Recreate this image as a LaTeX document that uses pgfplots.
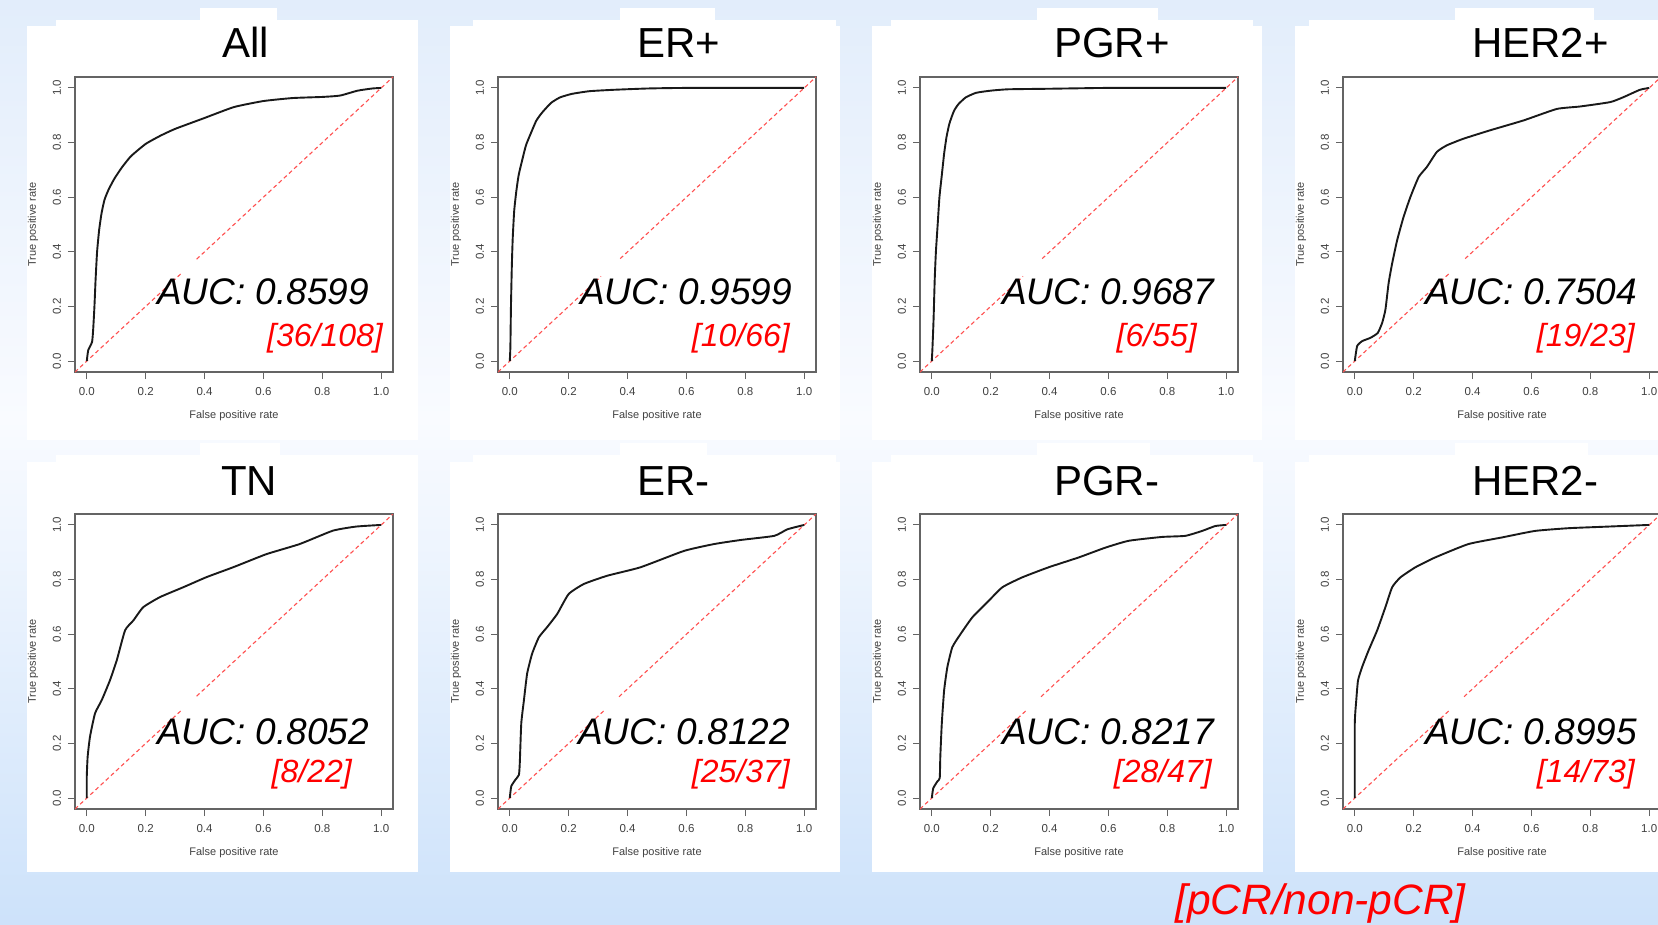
\documentclass[border=0pt]{standalone}
\usepackage{pgfplots}
\pgfplotsset{compat=1.18}
\usepackage{fontspec}
\setmainfont{Liberation Sans}
\definecolor{bgtop}{RGB}{226,237,251}
\definecolor{bgmid}{RGB}{249,251,255}
\definecolor{bgbot}{RGB}{205,226,250}
\definecolor{axgray}{RGB}{100,100,100}
\definecolor{labgray}{RGB}{65,65,65}
\definecolor{diagred}{RGB}{255,80,80}
\pgfplotsset{
  roc/.style={
    width=318pt, height=295pt, scale only axis,
    xmin=-0.04, xmax=1.04, ymin=-0.04, ymax=1.04,
    xtick={0,0.2,0.4,0.6,0.8,1}, ytick={0,0.2,0.4,0.6,0.8,1},
    xticklabels={0.0,0.2,0.4,0.6,0.8,1.0},
    yticklabels={0.0,0.2,0.4,0.6,0.8,1.0},
    xtick pos=left, ytick pos=left,
    tick align=outside, major tick length=7pt,
    tick style={axgray, line width=1.1pt},
    axis line style={axgray, line width=1.6pt},
    ticklabel style={font=\fontsize{11.5}{11.5}\selectfont, text=labgray},
    xticklabel style={yshift=-5pt},
    yticklabel style={xshift=-3.5pt, rotate=90},
    xlabel={False positive rate}, ylabel={True positive rate},
    label style={font=\fontsize{11}{11}\selectfont, text=labgray},
    xlabel style={at={(axis description cs:0.5,-0.149)}, anchor=center},
    ylabel style={at={(axis description cs:-0.132,0.5)}, anchor=center},
  },
  diag/.style={diagred, line width=1.1pt, dash pattern=on 4pt off 3pt},
  curve/.style={black!90, line width=1.9pt, smooth, tension=0.3},
}
\begin{document}
\begin{tikzpicture}
\path[use as bounding box] (0,0) rectangle (1658pt,-925pt);
\begin{scope}
\clip (0,0) rectangle (1658pt,-925pt);
\shade[top color=bgtop, bottom color=bgmid] (0,0) rectangle (1658pt,-420pt);
\shade[top color=bgmid, bottom color=bgbot] (0,-419pt) rectangle (1658pt,-925pt);
% white panels, top row
\fill[white] (27pt,-26pt) rectangle (418pt,-440pt);
\fill[white] (56pt,-20pt) rectangle (418pt,-27pt);
\fill[white] (200pt,-8pt) rectangle (277pt,-21pt);
\fill[white] (450pt,-26pt) rectangle (840pt,-440pt);
\fill[white] (473pt,-20pt) rectangle (836pt,-27pt);
\fill[white] (620pt,-8pt) rectangle (715pt,-21pt);
\fill[white] (872pt,-26pt) rectangle (1262pt,-440pt);
\fill[white] (891pt,-20pt) rectangle (1253pt,-27pt);
\fill[white] (1037pt,-8pt) rectangle (1158pt,-21pt);
\fill[white] (1295pt,-26pt) rectangle (1658pt,-440pt);
\fill[white] (1309pt,-20pt) rectangle (1658pt,-27pt);
\fill[white] (1455pt,-8pt) rectangle (1594pt,-21pt);
% white panels, bottom row
\fill[white] (27pt,-462pt) rectangle (418pt,-872pt);
\fill[white] (56pt,-455pt) rectangle (418pt,-463pt);
\fill[white] (200pt,-443pt) rectangle (280pt,-456pt);
\fill[white] (450pt,-462pt) rectangle (840pt,-872pt);
\fill[white] (473pt,-455pt) rectangle (836pt,-463pt);
\fill[white] (620pt,-443pt) rectangle (707pt,-456pt);
\fill[white] (872pt,-462pt) rectangle (1263pt,-872pt);
\fill[white] (891pt,-455pt) rectangle (1253pt,-463pt);
\fill[white] (1037pt,-443pt) rectangle (1150pt,-456pt);
\fill[white] (1295pt,-462pt) rectangle (1658pt,-872pt);
\fill[white] (1309pt,-455pt) rectangle (1658pt,-463pt);
\fill[white] (1455pt,-443pt) rectangle (1588pt,-456pt);

% ---------- All ----------
\begin{axis}[roc, at={(75pt,-372pt)}, anchor=south west]
\addplot[diag] coordinates {(-0.04,-0.04) (0.325,0.325)};
\addplot[diag] coordinates {(0.373,0.373) (1.04,1.04)};
\addplot[curve] coordinates {(0,0) (0.005,0.04) (0.018,0.07) (0.022,0.12) (0.026,0.2) (0.03,0.3) (0.035,0.4) (0.042,0.48) (0.05,0.54) (0.06,0.59) (0.075,0.63) (0.095,0.67) (0.12,0.71) (0.15,0.75) (0.2,0.795) (0.25,0.825) (0.3,0.85) (0.4,0.89) (0.5,0.93) (0.6,0.952) (0.7,0.963) (0.8,0.967) (0.86,0.972) (0.92,0.99) (0.97,0.998) (1,1)};
\end{axis}
% ---------- ER+ ----------
\begin{axis}[roc, at={(498pt,-372pt)}, anchor=south west]
\addplot[diag] coordinates {(-0.04,-0.04) (0.31,0.31)};
\addplot[diag] coordinates {(0.375,0.375) (1.04,1.04)};
\addplot[curve] coordinates {(0,0) (0.002,0.05) (0.004,0.2) (0.007,0.35) (0.01,0.45) (0.015,0.55) (0.022,0.62) (0.03,0.68) (0.042,0.735) (0.055,0.79) (0.07,0.83) (0.09,0.88) (0.11,0.91) (0.14,0.945) (0.17,0.965) (0.21,0.978) (0.27,0.988) (0.35,0.993) (0.47,0.998) (0.6,1) (1,1)};
\end{axis}
% ---------- PGR+ ----------
\begin{axis}[roc, at={(920pt,-372pt)}, anchor=south west]
\addplot[diag] coordinates {(-0.04,-0.04) (0.31,0.31)};
\addplot[diag] coordinates {(0.375,0.375) (1.04,1.04)};
\addplot[curve] coordinates {(0,0) (0.002,0.04) (0.006,0.15) (0.01,0.3) (0.014,0.4) (0.02,0.5) (0.026,0.6) (0.034,0.68) (0.042,0.76) (0.05,0.82) (0.06,0.87) (0.075,0.915) (0.09,0.94) (0.115,0.965) (0.15,0.982) (0.2,0.99) (0.26,0.995) (0.4,0.997) (0.52,0.999) (0.6,1) (1,1)};
\end{axis}
% ---------- HER2+ ----------
\begin{axis}[roc, at={(1343pt,-372pt)}, anchor=south west]
\addplot[diag] coordinates {(-0.04,-0.04) (0.32,0.32)};
\addplot[diag] coordinates {(0.375,0.375) (1.04,1.04)};
\addplot[curve] coordinates {(0,0) (0.008,0.055) (0.025,0.073) (0.053,0.085) (0.078,0.103) (0.093,0.14) (0.104,0.188) (0.115,0.286) (0.127,0.358) (0.144,0.443) (0.166,0.529) (0.189,0.601) (0.217,0.674) (0.245,0.711) (0.279,0.766) (0.313,0.79) (0.369,0.814) (0.46,0.845) (0.573,0.881) (0.686,0.923) (0.765,0.932) (0.867,0.948) (0.912,0.966) (0.968,0.993) (1,1)};
\end{axis}
% ---------- TN ----------
\begin{axis}[roc, at={(75pt,-809pt)}, anchor=south west]
\addplot[diag] coordinates {(-0.04,-0.04) (0.325,0.325)};
\addplot[diag] coordinates {(0.373,0.373) (1.04,1.04)};
\addplot[curve] coordinates {(0,0) (0,0.079) (0.003,0.152) (0.011,0.225) (0.028,0.31) (0.051,0.359) (0.079,0.432) (0.102,0.505) (0.13,0.614) (0.158,0.65) (0.192,0.699) (0.249,0.736) (0.328,0.772) (0.407,0.809) (0.497,0.845) (0.61,0.893) (0.723,0.93) (0.836,0.979) (0.915,0.994) (1,1)};
\end{axis}
% ---------- ER- ----------
\begin{axis}[roc, at={(498pt,-809pt)}, anchor=south west]
\addplot[diag] coordinates {(-0.04,-0.04) (0.325,0.325)};
\addplot[diag] coordinates {(0.371,0.371) (1.04,1.04)};
\addplot[curve] coordinates {(0,0) (0.005,0.043) (0.019,0.067) (0.031,0.085) (0.034,0.128) (0.039,0.273) (0.048,0.358) (0.059,0.456) (0.076,0.529) (0.099,0.589) (0.127,0.626) (0.161,0.674) (0.2,0.747) (0.252,0.784) (0.331,0.814) (0.444,0.845) (0.592,0.905) (0.694,0.93) (0.785,0.945) (0.898,0.96) (0.943,0.984) (1,1)};
\end{axis}
% ---------- PGR- ----------
\begin{axis}[roc, at={(920pt,-809pt)}, anchor=south west]
\addplot[diag] coordinates {(-0.04,-0.04) (0.325,0.325)};
\addplot[diag] coordinates {(0.371,0.371) (1.04,1.04)};
\addplot[curve] coordinates {(0,0) (0.005,0.036) (0.019,0.061) (0.027,0.073) (0.029,0.152) (0.034,0.273) (0.042,0.395) (0.053,0.48) (0.07,0.553) (0.098,0.601) (0.138,0.662) (0.194,0.723) (0.24,0.772) (0.307,0.808) (0.397,0.845) (0.499,0.881) (0.59,0.917) (0.669,0.942) (0.782,0.956) (0.861,0.96) (0.918,0.978) (0.963,0.996) (1,1)};
\end{axis}
% ---------- HER2- ----------
\begin{axis}[roc, at={(1343pt,-809pt)}, anchor=south west]
\addplot[diag] coordinates {(-0.04,-0.04) (0.325,0.325)};
\addplot[diag] coordinates {(0.371,0.371) (1.04,1.04)};
\addplot[curve] coordinates {(0,0) (0,0.273) (0.005,0.358) (0.011,0.431) (0.025,0.48) (0.047,0.541) (0.076,0.614) (0.104,0.699) (0.127,0.772) (0.155,0.808) (0.206,0.845) (0.273,0.881) (0.386,0.93) (0.499,0.954) (0.612,0.978) (0.725,0.988) (0.838,0.993) (1,1)};
\end{axis}

% titles
\begin{scope}[every node/.style={inner sep=0pt, anchor=base west, font=\fontsize{42}{42}\selectfont}]
\node at (222pt,-58pt) {All};
\node at (637pt,-58pt) {ER+};
\node at (1054pt,-58pt) {PGR+};
\node at (1472pt,-58pt) {HER2+};
\node at (221pt,-495pt) {TN};
\node at (637pt,-495pt) {ER-};
\node at (1054pt,-495pt) {PGR-};
\node at (1472pt,-495pt) {HER2-};
\end{scope}
% AUC
\begin{scope}[every node/.style={inner sep=0pt, anchor=base west, font=\fontsize{37}{37}\selectfont\itshape}]
\node at (157pt,-305pt) {AUC: 0.8599};
\node at (580pt,-305pt) {AUC: 0.9599};
\node at (1002pt,-305pt) {AUC: 0.9687};
\node at (1425pt,-305pt) {AUC: 0.7504};
\node at (157pt,-744pt) {AUC: 0.8052};
\node at (578pt,-744pt) {AUC: 0.8122};
\node at (1002pt,-744pt) {AUC: 0.8217};
\node at (1425pt,-744pt) {AUC: 0.8995};
\end{scope}
% counts
\begin{scope}[every node/.style={inner sep=0pt, anchor=base east, text=red, font=\fontsize{32}{32}\selectfont\itshape}]
\node at (383pt,-347pt) {[36/108]};
\node at (790pt,-347pt) {[10/66]};
\node at (1197pt,-347pt) {[6/55]};
\node at (1635pt,-347pt) {[19/23]};
\node at (352pt,-782pt) {[8/22]};
\node at (790pt,-782pt) {[25/37]};
\node at (1212pt,-782pt) {[28/47]};
\node at (1635pt,-782pt) {[14/73]};
\end{scope}
\node[inner sep=0pt, anchor=base west, text=red, font=\fontsize{42.5}{42.5}\selectfont\itshape] at (1175pt,-914pt) {[pCR/non-pCR]};
\end{scope}
\end{tikzpicture}
\end{document}
